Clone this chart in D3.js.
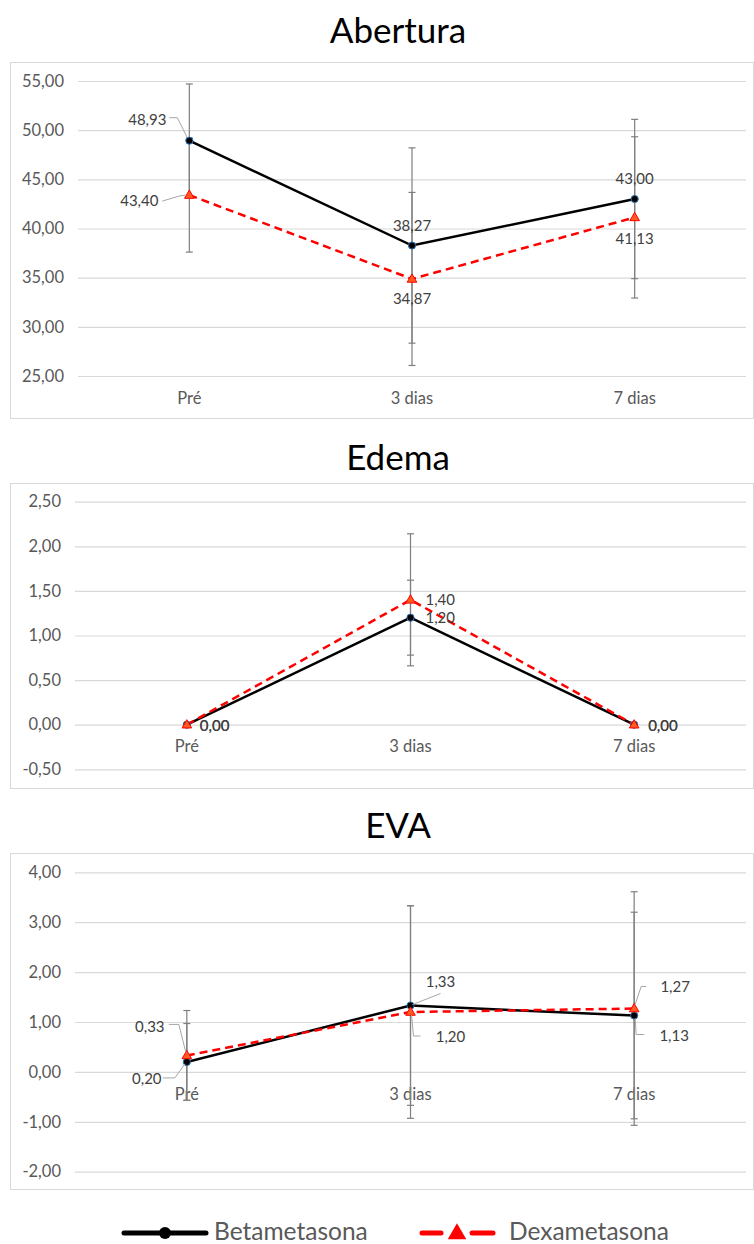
<!DOCTYPE html>
<html>
<head>
<meta charset="utf-8">
<script src="https://cdn.jsdelivr.net/npm/d3@7"></script>
<style>
  html, body { margin: 0; padding: 0; background: #fff; }
  svg { display: block; font-family: Lato, "Open Sans", sans-serif; }
</style>
</head>
<body>
<svg id="chart" width="754" height="1244"></svg>
<script>
// ---------- DATA ----------
const categories = ["Pré", "3 dias", "7 dias"];
const seriesNames = ["Betametasona", "Dexametasona"];

const aberturaBeta    = [48.93, 38.27, 43.00];
const aberturaBetaErr = [5.77, 9.93, 8.10];
const aberturaDexa    = [43.40, 34.87, 41.13];
const aberturaDexaErr = [5.80, 8.80, 8.20];
const aberturaTicks   = [25, 30, 35, 40, 45, 50, 55];

const edemaBeta    = [0.00, 1.20, 0.00];
const edemaBetaErr = [0, 0.42, 0];
const edemaDexa    = [0.00, 1.40, 0.00];
const edemaDexaErr = [0, 0.74, 0];
const edemaTicks   = [-0.5, 0, 0.5, 1.0, 1.5, 2.0, 2.5];

const evaBeta    = [0.20, 1.33, 1.13];
const evaBetaErr = [0.77, 2.00, 2.07];
const evaDexa    = [0.33, 1.20, 1.27];
const evaDexaErr = [0.90, 2.13, 2.34];
const evaTicks   = [-2, -1, 0, 1, 2, 3, 4];

// ---------- STYLE / LAYOUT ----------
const svg = d3.select("#chart");
const fmt = v => d3.format(".2f")(v).replace(".", ",").replace("−", "-");
const gridColor = "#d9d9d9";
const textColor = "#595959";
const labelColor = "#404040";
const errColor = "#7f7f7f";
const leaderColor = "#a6a6a6";
const fontFam = "Lato, 'Open Sans', sans-serif";

const panels = [
  {
    title: "Abertura", titleY: 43,
    frame: [10.5, 62.5, 743, 356],
    xRange: [78, 746], yRange: [376, 81],
    ticks: aberturaTicks, domain: [25, 55], axisVal: 25,
    beta: aberturaBeta, betaErr: aberturaBetaErr,
    dexa: aberturaDexa, dexaErr: aberturaDexaErr,
    betaLabels: [
      {dx: -42, dy: -21, anchor: "middle", leader: [[-20, -23], [-12, -23], [-2, -3]]},
      {dx: 0, dy: -20, anchor: "middle"},
      {dx: 0, dy: -20, anchor: "middle"}
    ],
    dexaLabels: [
      {dx: -50, dy: 6, anchor: "middle", leader: [[-27, 6], [-10, 1], [-4, 0]]},
      {dx: 0, dy: 20, anchor: "middle"},
      {dx: 0, dy: 21, anchor: "middle"}
    ]
  },
  {
    title: "Edema", titleY: 470,
    frame: [10.5, 483.5, 743, 305],
    xRange: [75, 746], yRange: [769.3, 501.7],
    ticks: edemaTicks, domain: [-0.5, 2.5], axisVal: 0,
    beta: edemaBeta, betaErr: edemaBetaErr,
    dexa: edemaDexa, dexaErr: edemaDexaErr,
    betaLabels: [
      {dx: 13, dy: 1, anchor: "start"},
      {dx: 15, dy: 0, anchor: "start"},
      {dx: 14, dy: 1, anchor: "start"}
    ],
    dexaLabels: [
      {dx: 13, dy: 1, anchor: "start"},
      {dx: 15, dy: 0, anchor: "start"},
      {dx: 14, dy: 1, anchor: "start"}
    ]
  },
  {
    title: "EVA", titleY: 838,
    frame: [10.5, 853.5, 743, 336],
    xRange: [75, 746], yRange: [1171.7, 872.3],
    ticks: evaTicks, domain: [-2, 4], axisVal: 0,
    beta: evaBeta, betaErr: evaBetaErr,
    dexa: evaDexa, dexaErr: evaDexaErr,
    betaLabels: [
      {dx: -40, dy: 17, anchor: "middle", leader: [[-24, 16], [-12, 16], [-2, 2]]},
      {dx: 30, dy: -24, anchor: "middle", leader: [[30, -12], [2, -1]]},
      {dx: 40, dy: 20, anchor: "middle", leader: [[1, 3], [2, 19], [10, 19]]}
    ],
    dexaLabels: [
      {dx: -37, dy: -29, anchor: "middle", leader: [[-18, -31], [-8, -31], [-1, -3]]},
      {dx: 40, dy: 25, anchor: "middle", leader: [[1, 3], [3, 24], [10, 24]]},
      {dx: 41, dy: -22, anchor: "middle", leader: [[12, -22], [7, -22], [1, -4]]}
    ]
  }
];

panels.forEach(p => {
  const g = svg.append("g");
  const x = d3.scaleBand().domain(categories).range(p.xRange);
  const xc = c => x(c) + x.bandwidth() / 2;
  const y = d3.scaleLinear().domain(p.domain).range(p.yRange);

  g.append("rect")
    .attr("x", p.frame[0]).attr("y", p.frame[1])
    .attr("width", p.frame[2]).attr("height", p.frame[3])
    .attr("fill", "none").attr("stroke", gridColor).attr("stroke-width", 1);

  g.append("text")
    .attr("x", 398).attr("y", p.titleY)
    .attr("text-anchor", "middle")
    .attr("font-size", 35).attr("fill", "#000")
    .text(p.title);

  const yAxis = d3.axisLeft(y).tickValues(p.ticks)
    .tickSize(-(p.xRange[1] - p.xRange[0])).tickPadding(14)
    .tickFormat(fmt);
  const ya = g.append("g").attr("transform", `translate(${p.xRange[0]},0)`).call(yAxis);
  ya.select(".domain").remove();
  ya.selectAll(".tick line").attr("stroke", gridColor).attr("stroke-width", 1.2);
  ya.selectAll(".tick text").attr("fill", textColor).attr("font-size", 16.5)
    .attr("font-family", fontFam);

  const xAxis = d3.axisBottom(x).tickSize(0).tickPadding(16);
  const xa = g.append("g").attr("transform", `translate(0,${y(p.axisVal)})`).call(xAxis);
  xa.select(".domain").remove();
  xa.selectAll(".tick text").attr("fill", textColor).attr("font-size", 16.5)
    .attr("font-family", fontFam);

  const line = d3.line().x((d, i) => xc(categories[i])).y(d => y(d));

  g.append("path").datum(p.beta).attr("d", line)
    .attr("fill", "none").attr("stroke", "#000").attr("stroke-width", 2.5);
  g.append("path").datum(p.dexa).attr("d", line)
    .attr("fill", "none").attr("stroke", "#ff0000").attr("stroke-width", 2.5)
    .attr("stroke-dasharray", "8,5");

  const drawErr = (vals, errs) => {
    vals.forEach((v, i) => {
      if (!errs[i]) return;
      const cx = xc(categories[i]);
      const y1 = y(v + errs[i]), y2 = y(v - errs[i]);
      g.append("line").attr("x1", cx).attr("x2", cx).attr("y1", y1).attr("y2", y2)
        .attr("stroke", errColor).attr("stroke-width", 1.2);
      [y1, y2].forEach(yy => g.append("line")
        .attr("x1", cx - 3.5).attr("x2", cx + 3.5).attr("y1", yy).attr("y2", yy)
        .attr("stroke", errColor).attr("stroke-width", 1.2));
    });
  };
  drawErr(p.beta, p.betaErr);
  drawErr(p.dexa, p.dexaErr);

  g.selectAll(".mb").data(p.beta).enter().append("circle")
    .attr("cx", (d, i) => xc(categories[i])).attr("cy", d => y(d))
    .attr("r", 3.6).attr("fill", "#000").attr("stroke", "#2e75b6").attr("stroke-width", 1);
  g.selectAll(".md").data(p.dexa).enter().append("path")
    .attr("d", d3.symbol().type(d3.symbolTriangle).size(40))
    .attr("transform", (d, i) => `translate(${xc(categories[i])},${y(d) + 0.5})`)
    .attr("fill", "#ff5a1f").attr("stroke", "#ff0000").attr("stroke-width", 1);

  const drawLabels = (vals, specs) => {
    vals.forEach((v, i) => {
      const px = xc(categories[i]), py = y(v), s = specs[i];
      if (s.leader) {
        g.append("polyline")
          .attr("points", s.leader.map(q => [px + q[0], py + q[1]].join(",")).join(" "))
          .attr("fill", "none").attr("stroke", leaderColor).attr("stroke-width", 1);
      }
      g.append("text")
        .attr("x", px + s.dx).attr("y", py + s.dy)
        .attr("dy", "0.35em")
        .attr("text-anchor", s.anchor)
        .attr("font-size", 15).attr("fill", labelColor)
        .text(fmt(v));
    });
  };
  drawLabels(p.beta, p.betaLabels);
  drawLabels(p.dexa, p.dexaLabels);
});

// ---------- LEGEND ----------
const lg = svg.append("g");
const legendY = 1233;
const legendBase = 1240;
lg.append("line").attr("x1", 124).attr("x2", 206).attr("y1", legendY).attr("y2", legendY)
  .attr("stroke", "#000").attr("stroke-width", 5).attr("stroke-linecap", "round");
lg.append("circle").attr("cx", 165).attr("cy", legendY).attr("r", 6).attr("fill", "#000");
lg.append("text").attr("x", 214).attr("y", legendBase)
  .attr("font-size", 24.5).attr("fill", textColor).text(seriesNames[0]);

[[422, 441], [472, 493]].forEach(s => lg.append("line")
  .attr("x1", s[0]).attr("x2", s[1]).attr("y1", legendY).attr("y2", legendY)
  .attr("stroke", "#ff0000").attr("stroke-width", 5).attr("stroke-linecap", "round"));
lg.append("path").attr("d", d3.symbol().type(d3.symbolTriangle).size(150))
  .attr("transform", `translate(457,${legendY + 1})`).attr("fill", "#ff0000");
lg.append("text").attr("x", 509).attr("y", legendBase)
  .attr("font-size", 24.5).attr("fill", textColor).text(seriesNames[1]);
</script>
</body>
</html>
